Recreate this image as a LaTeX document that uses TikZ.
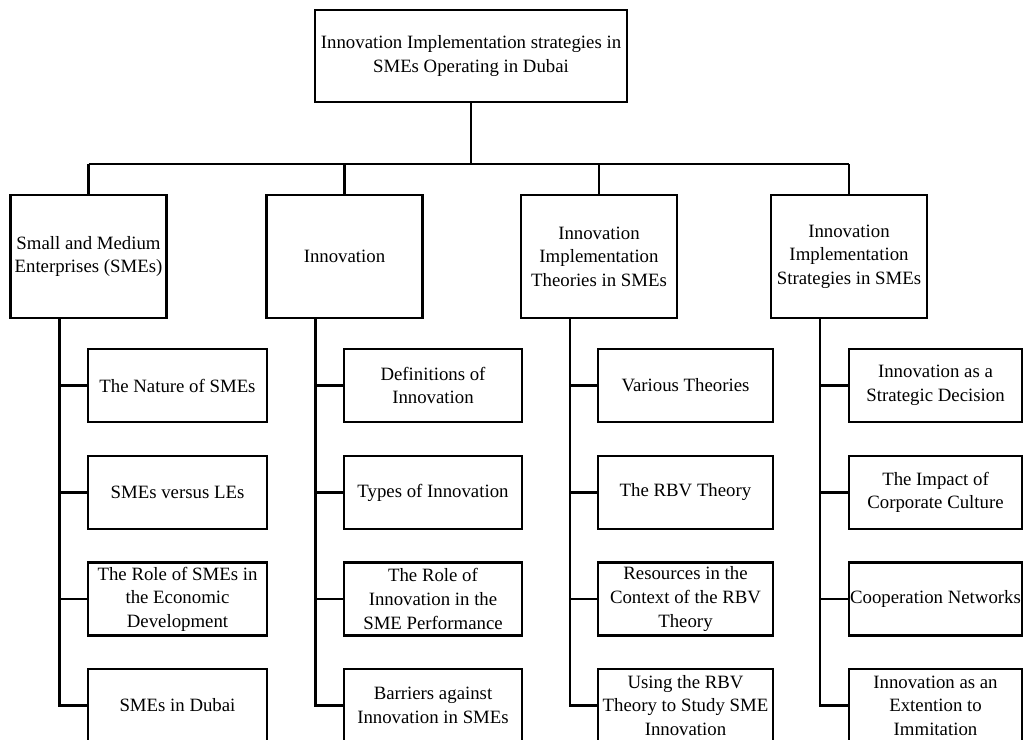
\documentclass[tikz,border=0pt]{standalone}
\usepackage{fontspec}
\setmainfont{Liberation Serif}
\begin{document}
\begin{tikzpicture}[x=1bp,y=-1bp,
  every node/.style={font=\fontsize{18.8bp}{23.6bp}\selectfont},
  box/.style={draw,line width=2.2bp,align=center,inner sep=0pt,minimum height=#1},
  rootbox/.style={box=92bp,minimum width=312bp},
  catbox/.style={box=123bp,minimum width=156bp},
  kid/.style={box=73bp},
  wire/.style={line width=2.2bp}]
\useasboundingbox (0,0) rectangle (1034,740);
\node[rootbox] (root) at (471,56) {Innovation Implementation strategies in\\SMEs Operating in Dubai};
\node[catbox] (c1) at (88.5,256.5) {Small and Medium\\Enterprises (SMEs)};
\node[catbox] (c2) at (344.5,256.5) {Innovation};
\node[catbox] (c3) at (599,256.5) {Innovation\\Implementation\\Theories in SMEs};
\node[catbox] (c4) at (849,256.5) {Innovation\\Implementation\\Strategies in SMEs};
% column 1
\node[kid,minimum width=179bp] (k11) at (177.5,385.5) {The Nature of SMEs};
\node[kid,minimum width=179bp] (k12) at (177.5,492.5) {SMEs versus LEs};
\node[kid,minimum width=179bp] (k13) at (177.5,599) {The Role of SMEs in\\the Economic\\Development};
\node[kid,minimum width=179bp] (k14) at (177.5,705.5) {SMEs in Dubai};
% column 2
\node[kid,minimum width=178bp] (k21) at (433,385.5) {Definitions of\\Innovation};
\node[kid,minimum width=178bp] (k22) at (433,492.5) {Types of Innovation};
\node[kid,minimum width=178bp] (k23) at (433,599) {The Role of\\Innovation in the\\SME Performance};
\node[kid,minimum width=178bp] (k24) at (433,705.5) {Barriers against\\Innovation in SMEs};
% column 3
\node[kid,minimum width=175bp] (k31) at (685.5,385.5) {Various Theories};
\node[kid,minimum width=175bp] (k32) at (685.5,492.5) {The RBV Theory};
\node[kid,minimum width=175bp] (k33) at (685.5,599) {Resources in the\\Context of the RBV\\Theory};
\node[kid,minimum width=175bp] (k34) at (685.5,705.5) {Using the RBV\\Theory to Study SME\\Innovation};
% column 4
\node[kid,minimum width=173bp] (k41) at (935.5,385.5) {Innovation as a\\Strategic Decision};
\node[kid,minimum width=173bp] (k42) at (935.5,492.5) {The Impact of\\Corporate Culture};
\node[kid,minimum width=173bp] (k43) at (935.5,599) {Cooperation Networks};
\node[kid,minimum width=173bp] (k44) at (935.5,705.5) {Innovation as an\\Extention to\\Immitation};
% bus
\coordinate (bus) at (0,164);
\draw[wire] (root.south) -- (root.south |- bus);
\draw[wire] (c1.north |- bus) -- (c4.north |- bus);
\foreach \c in {c1,c2,c3,c4} \draw[wire] (\c.north) -- (\c.north |- bus);
% spines
\foreach \i in {1,2,3,4}{
  \coordinate (s\i) at ([xshift=50bp]c\i.south west);
  \draw[wire] (k\i4.west) -| (s\i);
  \foreach \j in {1,2,3} \draw[wire] (k\i\j.west) -- (k\i\j.west -| s\i);
}
\end{tikzpicture}
\end{document}
